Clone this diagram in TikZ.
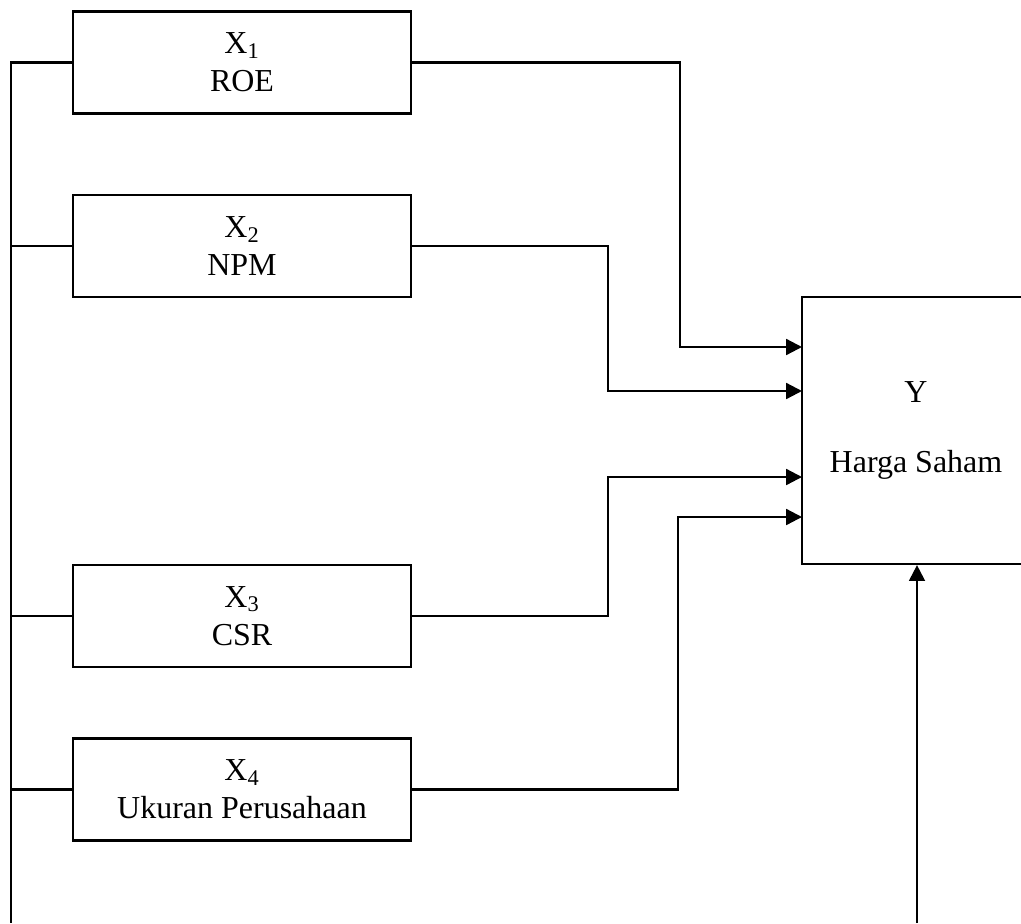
\documentclass[tikz,border=0pt]{standalone}
\usepackage{fontspec}
\setmainfont{Liberation Serif}
\usetikzlibrary{arrows.meta}

\tikzset{
  varbox/.style={draw, line width=1.3pt, minimum width=6.76cm, minimum height=2.04cm,
    align=center, font=\fontsize{18.2}{21.5}\selectfont},
  arr/.style={-{Triangle[length=9pt,width=9pt]}}
}

\begin{document}
\begin{tikzpicture}[x=0.02cm, y=-0.02cm, line width=1.3pt]
  \useasboundingbox (0,0) rectangle (1021,923);
  \clip (0,0) rectangle (1021,923);

  % Variable boxes
  \node[varbox] (x1) at (242,62.5) {X\textsubscript{1}\\ROE};
  \node[varbox] (x2) at (242,246) {X\textsubscript{2}\\NPM};
  \node[varbox] (x3) at (242,616) {X\textsubscript{3}\\CSR};
  \node[varbox] (x4) at (242,789.5) {X\textsubscript{4}\\Ukuran Perusahaan};

  % Dependent variable
  \node[varbox, minimum width=4.56cm, minimum height=5.34cm] (y) at (916,430.5)
    {Y\\[18pt]Harga Saham};

  % Left bus line
  \coordinate (bustop) at (11,62.5);
  \coordinate (busbot) at (11,923);
  \draw (x1.west) -- (bustop) -- (busbot);
  \foreach \n in {x2,x3,x4} {
    \draw (\n.west) -- (\n.west -| bustop);
  }

  % Entry points on Y
  \coordinate (in1) at (802,347);
  \coordinate (in2) at (802,391);
  \coordinate (in3) at (802,477);
  \coordinate (in4) at (802,517);

  % Arrows into Y
  \draw[arr] (x1.east) -- ++(268,0) |- (in1);
  \draw[arr] (x2.east) -- ++(196,0) |- (in2);
  \draw[arr] (x3.east) -- ++(196,0) |- (in3);
  \draw[arr] (x4.east) -- ++(266,0) |- (in4);

  % Arrow from below
  \coordinate (ybot) at (917,923);
  \draw[arr] (ybot) -- (ybot |- y.south);
\end{tikzpicture}
\end{document}
